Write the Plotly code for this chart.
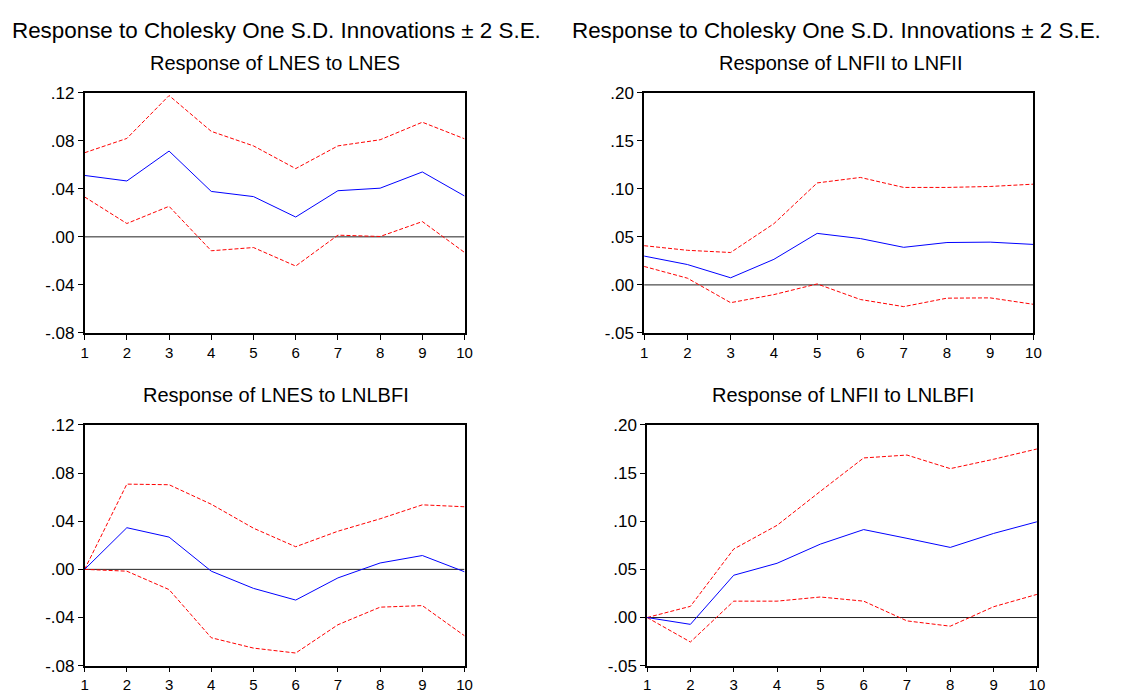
import plotly.graph_objects as go

periods = [1, 2, 3, 4, 5, 6, 7, 8, 9, 10]

# Response of LNES to LNES
es_es = [0.0511, 0.0465, 0.0714, 0.0378, 0.0335, 0.0165, 0.0384, 0.0405, 0.0540, 0.0340]
es_es_up = [0.0700, 0.0819, 0.1176, 0.0878, 0.0757, 0.0568, 0.0757, 0.0808, 0.0954, 0.0816]
es_es_lo = [0.0332, 0.0111, 0.0254, -0.0116, -0.0089, -0.0243, 0.0014, 0.0003, 0.0127, -0.0130]

# Response of LNFII to LNFII
fii_fii = [0.0300, 0.0212, 0.0074, 0.0266, 0.0536, 0.0482, 0.0391, 0.0441, 0.0445, 0.0421]
fii_fii_up = [0.0408, 0.0360, 0.0337, 0.0637, 0.1061, 0.1118, 0.1014, 0.1014, 0.1024, 0.1048]
fii_fii_lo = [0.0192, 0.0070, -0.0185, -0.0101, 0.0010, -0.0152, -0.0226, -0.0138, -0.0135, -0.0202]

# Response of LNES to LNLBFI
es_lbfi = [0.0, 0.0346, 0.0268, -0.0015, -0.0158, -0.0255, -0.0071, 0.0053, 0.0115, -0.0020]
es_lbfi_up = [0.0, 0.0708, 0.0703, 0.0541, 0.0342, 0.0188, 0.0317, 0.0420, 0.0536, 0.0520]
es_lbfi_lo = [0.0, -0.0015, -0.0168, -0.0568, -0.0654, -0.0695, -0.0460, -0.0314, -0.0301, -0.0552]

# Response of LNFII to LNLBFI
fii_lbfi = [0.0, -0.0071, 0.0439, 0.0563, 0.0762, 0.0913, 0.0822, 0.0728, 0.0873, 0.0994]
fii_lbfi_up = [0.0, 0.0116, 0.0711, 0.0957, 0.1310, 0.1657, 0.1687, 0.1546, 0.1643, 0.1750]
fii_lbfi_lo = [0.0, -0.0254, 0.0170, 0.0170, 0.0213, 0.0170, -0.0035, -0.0090, 0.0112, 0.0240]

es_ticks = [-0.08, -0.04, 0.00, 0.04, 0.08, 0.12]
es_ticktext = ["-.08", "-.04", ".00", ".04", ".08", ".12"]
fii_ticks = [-0.05, 0.00, 0.05, 0.10, 0.15, 0.20]
fii_ticktext = ["-.05", ".00", ".05", ".10", ".15", ".20"]

main_title = "Response to Cholesky One S.D. Innovations \u00b1 2 S.E."
sub_titles = ["Response of LNES to LNES", "Response of LNFII to LNFII",
              "Response of LNES to LNLBFI", "Response of LNFII to LNLBFI"]

FONT = "Liberation Sans, Arial, sans-serif"
W, H = 1130, 700

panels = [
    dict(mid=es_es, up=es_es_up, lo=es_es_lo, ticks=es_ticks, tt=es_ticktext,
         rng=[-0.08, 0.12], px=(81.5, 465.5), py=(86, 333)),
    dict(mid=fii_fii, up=fii_fii_up, lo=fii_fii_lo, ticks=fii_ticks, tt=fii_ticktext,
         rng=[-0.05, 0.20], px=(647, 1040.5), py=(86, 333)),
    dict(mid=es_lbfi, up=es_lbfi_up, lo=es_lbfi_lo, ticks=es_ticks, tt=es_ticktext,
         rng=[-0.08, 0.12], px=(81.5, 465.5), py=(427.5, 675)),
    dict(mid=fii_lbfi, up=fii_lbfi_up, lo=fii_lbfi_lo, ticks=fii_ticks, tt=fii_ticktext,
         rng=[-0.05, 0.20], px=(650, 1044), py=(427.5, 675)),
]

fig = go.Figure()
layout = {}
for i, p in enumerate(panels, start=1):
    xa = "x" if i == 1 else f"x{i}"
    ya = "y" if i == 1 else f"y{i}"
    # zero line
    fig.add_trace(go.Scatter(x=[periods[0], periods[-1]], y=[0, 0], mode="lines",
                             line=dict(color="#222222", width=1), xaxis=xa, yaxis=ya,
                             showlegend=False, hoverinfo="skip"))
    for series, color, dash in [(p["up"], "#ff0000", "4px,2px"), (p["lo"], "#ff0000", "4px,2px"),
                                (p["mid"], "#0000ff", "solid")]:
        fig.add_trace(go.Scatter(x=periods, y=series, mode="lines",
                                 line=dict(color=color, width=1, dash=dash),
                                 xaxis=xa, yaxis=ya, showlegend=False))
    xd = [p["px"][0] / W, p["px"][1] / W]
    yd = [1 - p["py"][1] / H, 1 - p["py"][0] / H]
    layout["xaxis" if i == 1 else f"xaxis{i}"] = dict(
        domain=xd, range=[1, 10], tickvals=periods, ticks="outside", ticklen=5,
        tickcolor="black", showline=True, linecolor="black", linewidth=1.5, mirror=True,
        showgrid=False, zeroline=False, anchor=ya,
        tickfont=dict(family=FONT, size=15, color="black"))
    layout["yaxis" if i == 1 else f"yaxis{i}"] = dict(
        domain=yd, range=p["rng"], tickvals=p["ticks"], ticktext=p["tt"],
        ticks="outside", ticklen=5, tickcolor="black", showline=True, linecolor="black",
        linewidth=1.5, mirror=True, showgrid=False, zeroline=False, anchor=xa,
        tickfont=dict(family=FONT, size=17, color="black"))

annotations = [
    dict(text=main_title, x=6.5 / W, y=1 - 22 / H, xanchor="left", yanchor="middle"),
    dict(text=main_title, x=572.5 / W, y=1 - 22 / H, xanchor="left", yanchor="middle"),
]
for t in annotations:
    t.update(xref="paper", yref="paper", showarrow=False,
             font=dict(family=FONT, size=22.4, color="black"))
sub_pos = [(273.5, 56), (845, 55.5), (275, 397), (848.5, 397)]
for txt, (sx, sy) in zip(sub_titles, sub_pos):
    annotations.append(dict(text=txt, x=sx / W, y=1 - sy / H, xref="paper", yref="paper",
                            xanchor="center", yanchor="middle", showarrow=False,
                            font=dict(family=FONT, size=20, color="black")))

fig.update_layout(width=W, height=H, margin=dict(l=0, r=0, t=0, b=0),
                  paper_bgcolor="white", plot_bgcolor="white",
                  annotations=annotations, **layout)

fig.write_html("out.html",
               post_script="document.body.style.margin='0px';document.body.style.padding='0px';")
